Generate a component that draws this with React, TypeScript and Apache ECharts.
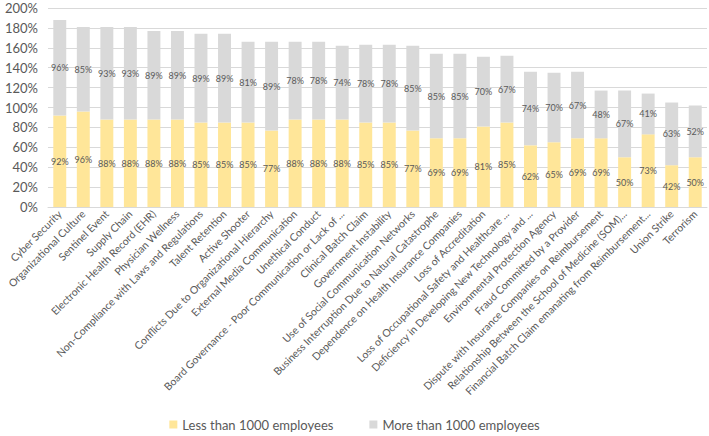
import React, { useEffect, useRef } from "react";
import * as echarts from "echarts";

const categories = [
  "Cyber Security",
  "Organizational Culture",
  "Sentinel Event",
  "Supply Chain",
  "Electronic Health Record (EHR)",
  "Physician Wellness",
  "Non-Compliance with Laws and Regulations",
  "Talent Retention",
  "Active Shooter",
  "Conflicts Due to Organizational Hierarchy",
  "External Media Communication",
  "Unethical Conduct",
  "Board Governance - Poor Communication or Lack of ...",
  "Clinical Batch Claim",
  "Government Instability",
  "Use of Social Communication Networks",
  "Business Interruption Due to Natural Catastrophe",
  "Dependence on Health Insurance Companies",
  "Loss of Accreditation",
  "Loss of Occupational Safety and Healthcare ...",
  "Deficiency in Developing New Technology and ...",
  "Environmental Protection Agency",
  "Fraud Committed by a Provider",
  "Dispute with Insurance Companies on Reimbursement",
  "Relationship Between the School of Medicine (SOM)...",
  "Financial Batch Claim emanating from Reimbursement...",
  "Union Strike",
  "Terrorism",
];

const lessThan1000 = [92, 96, 88, 88, 88, 88, 85, 85, 85, 77, 88, 88, 88, 85, 85, 77, 69, 69, 81, 85, 62, 65, 69, 69, 50, 73, 42, 50];
const moreThan1000 = [96, 85, 93, 93, 89, 89, 89, 89, 81, 89, 78, 78, 74, 78, 78, 85, 85, 85, 70, 67, 74, 70, 67, 48, 67, 41, 63, 52];

const seriesNames = ["Less than 1000 employees", "More than 1000 employees"];

export default function App() {
  const ref = useRef<HTMLDivElement>(null);
  useEffect(() => {
    document.body.style.margin = "0";
    const chart = echarts.init(ref.current!, null, { renderer: "svg" });
    const font = "Lato, 'Noto Sans', sans-serif";
    const labelStyle = {
      show: true,
      position: "inside",
      formatter: "{c}%",
      fontSize: 9,
      color: "#595959",
      fontFamily: font,
    };
    chart.setOption({
      animation: false,
      textStyle: { fontFamily: font },
      grid: { left: 48, right: 2, top: 8, bottom: 229, containLabel: false },
      legend: {
        top: 418,
        left: "center",
        padding: 0,
        itemWidth: 8,
        itemHeight: 8,
        itemGap: 36,
        icon: "rect",
        textStyle: { fontSize: 13, color: "#595959", fontFamily: font },
        data: seriesNames,
      },
      xAxis: {
        type: "category",
        data: categories,
        axisTick: { show: false },
        axisLine: { lineStyle: { color: "#D9D9D9" } },
        axisLabel: {
          rotate: 45,
          interval: 0,
          fontSize: 10.5,
          color: "#595959",
          margin: 5,
          fontFamily: font,
        },
      },
      yAxis: {
        type: "value",
        min: 0,
        max: 200,
        interval: 20,
        axisLine: { show: false },
        axisTick: { show: false },
        splitLine: { lineStyle: { color: "#D9D9D9" } },
        axisLabel: {
          formatter: "{value}%",
          fontSize: 13,
          color: "#595959",
          margin: 10,
          fontFamily: font,
        },
      },
      series: [
        {
          name: seriesNames[0],
          type: "bar",
          stack: "total",
          data: lessThan1000,
          barCategoryGap: "45%",
          itemStyle: { color: "#FFE699" },
          label: labelStyle,
        },
        {
          name: seriesNames[1],
          type: "bar",
          stack: "total",
          data: moreThan1000,
          barCategoryGap: "45%",
          itemStyle: { color: "#D9D9D9" },
          label: labelStyle,
        },
      ],
    });
    return () => chart.dispose();
  }, []);
  return <div ref={ref} style={{ width: 709, height: 436 }} />;
}
